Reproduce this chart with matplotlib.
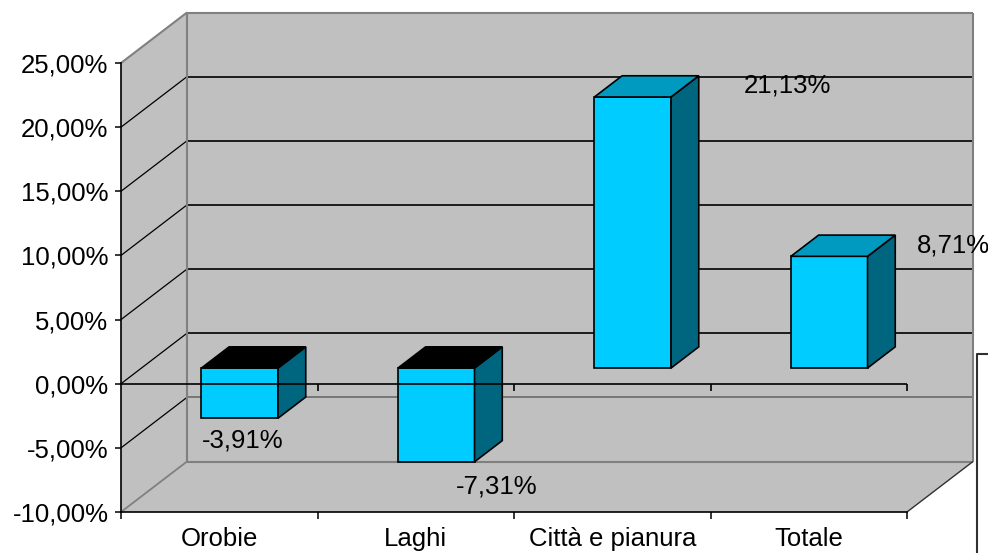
import matplotlib
matplotlib.use("Agg")
import matplotlib.pyplot as plt
from matplotlib.patches import Polygon
from matplotlib.lines import Line2D
from matplotlib.transforms import IdentityTransform

# --- data -----------------------------------------------------------------
categories = ["Orobie", "Laghi", "Città e pianura", "Totale"]
values = [-3.91, -7.31, 21.13, 8.71]
value_labels = ["-3,91%", "-7,31%", "21,13%", "8,71%"]
y_ticks = [-10, -5, 0, 5, 10, 15, 20, 25]
y_tick_labels = ["-10,00%", "-5,00%", "0,00%", "5,00%", "10,00%",
                 "15,00%", "20,00%", "25,00%"]

# --- layout / style -------------------------------------------------------
W, H, DPI = 988, 553, 100
DEPTH_X, DEPTH_Y = 66, 50.5          # pixel shift of the back wall
BAR_F0, BAR_F1 = 0.31, 0.73          # bar depth range (0 = front, 1 = back)
BAR_W = 0.39
WALL = "#C0C0C0"
EDGE = "#808080"
FRONT = "#00CCFF"
SIDE = "#006680"
TOP_POS = "#0099BF"
TOP_NEG = "#000000"
FONT = ["Liberation Sans", "DejaVu Sans"]
FS = 18.5
# label offsets in pixels from the bar end (front face centre)
LABEL_OFFSETS = [(3, -22), (60, -25), (155, 11), (124, 11)]

plt.rcParams["font.family"] = FONT

fig = plt.figure(figsize=(W / DPI, H / DPI), dpi=DPI)
fig.patch.set_facecolor("white")
ax = fig.add_axes([121 / W, 41 / H, 786 / W, 449 / H])
ax.set_xlim(0, len(categories))
ax.set_ylim(y_ticks[0], y_ticks[-1])
ax.patch.set_visible(False)

ident = IdentityTransform()


def proj(x, v, f=0.0):
    """Map a (category, value, depth) point to display pixels."""
    px, py = ax.transData.transform((x, v))
    return (px + DEPTH_X * f, py + DEPTH_Y * f)


def face(pts, fc, z, ec="black", lw=1.2):
    ax.add_patch(Polygon(pts, closed=True, transform=ident, facecolor=fc,
                         edgecolor=ec, lw=lw, zorder=z, clip_on=False,
                         joinstyle="miter"))


def seg(p, q, color, lw, z):
    ax.add_line(Line2D([p[0], q[0]], [p[1], q[1]], transform=ident,
                       color=color, lw=lw, zorder=z, clip_on=False,
                       solid_capstyle="butt"))


n = len(categories)
vmin, vmax = y_ticks[0], y_ticks[-1]

# walls and floor
face([proj(0, vmin, 1), proj(n, vmin, 1), proj(n, vmax, 1), proj(0, vmax, 1)],
     WALL, 0.5, ec="none")
face([proj(0, vmax, 0), proj(0, vmax, 1), proj(0, vmin, 1), proj(0, vmin, 0)],
     WALL, 0.5, ec="none")
face([proj(0, vmin, 0), proj(0, vmin, 1), proj(n, vmin, 1), proj(n, vmin, 0)],
     WALL, 0.5, ec="none")

# gridlines on the back wall and the side wall
for v in y_ticks[1:-1]:
    back_col = "black" if v >= 0 else "#6a6a6a"
    seg(proj(0, v, 1), proj(n, v, 1), back_col, 1.2, 0.8)
    seg(proj(0, v, 0), proj(0, v, 1), "black", 0.9, 0.8)

# wall outlines
seg(proj(0, vmax, 0), proj(0, vmax, 1), EDGE, 1.5, 0.9)
seg(proj(0, vmax, 1), proj(n, vmax, 1), EDGE, 1.5, 0.9)
seg(proj(n, vmax, 1), proj(n, vmin, 1), EDGE, 1.5, 0.9)
seg(proj(0, vmax, 1), proj(0, vmin, 1), EDGE, 1.5, 0.9)
seg(proj(0, vmin, 1), proj(n, vmin, 1), EDGE, 1.5, 0.9)
seg(proj(0, vmin, 0), proj(0, vmin, 1), EDGE, 1.3, 0.9)
seg(proj(n, vmin, 0), proj(n, vmin, 1), "#303030", 1.0, 0.9)

# bars
for i, v in enumerate(values):
    x0 = i + 0.5 - BAR_W / 2
    x1 = i + 0.5 + BAR_W / 2
    t = max(v, 0)
    face([proj(x0, 0, BAR_F0), proj(x1, 0, BAR_F0),
          proj(x1, v, BAR_F0), proj(x0, v, BAR_F0)], FRONT, 2 + i * 0.1)
    face([proj(x1, 0, BAR_F0), proj(x1, 0, BAR_F1),
          proj(x1, v, BAR_F1), proj(x1, v, BAR_F0)], SIDE, 2 + i * 0.1)
    face([proj(x0, t, BAR_F0), proj(x1, t, BAR_F0),
          proj(x1, t, BAR_F1), proj(x0, t, BAR_F1)],
         TOP_POS if v > 0 else TOP_NEG, 2 + i * 0.1)

    anchor = proj(i + 0.5, v, BAR_F0)
    dx, dy = LABEL_OFFSETS[i]
    ax.annotate(value_labels[i], xy=anchor, xycoords=ident,
                xytext=(dx, dy), textcoords="offset pixels",
                ha="center", va="center", fontsize=FS, zorder=6,
                annotation_clip=False)

# category axis at zero, in the front plane
seg(proj(0, 0, 0), proj(n, 0, 0), "black", 1.2, 4)
for k in range(1, n + 1):
    p = proj(k, 0, 0)
    seg(p, (p[0], p[1] - 7), "black", 1.2, 4)

# value axis and bottom edge
for side in ("top", "right"):
    ax.spines[side].set_visible(False)
for side in ("left", "bottom"):
    ax.spines[side].set_color("black")
    ax.spines[side].set_linewidth(1.2)
    ax.spines[side].set_zorder(3)

ax.set_yticks(y_ticks)
ax.set_yticklabels(y_tick_labels, fontsize=FS)
ax.tick_params(axis="y", direction="out", length=4.5, width=1.1, pad=4.5)

ax.set_xticks(range(n + 1))
ax.set_xticklabels([""] * (n + 1))
ax.set_xticks([i + 0.5 for i in range(n)], minor=True)
ax.set_xticklabels(categories, minor=True, fontsize=FS)
ax.tick_params(axis="x", which="major", direction="out", length=5, width=1.1)
ax.tick_params(axis="x", which="minor", length=0, pad=10.5)

# frame edge at the right border
fig.add_artist(Line2D([977, 977, W], [0, H - 354, H - 354], transform=ident,
                      color="#303030", lw=1.5))

fig.savefig("out.png", dpi=DPI, facecolor="white")
